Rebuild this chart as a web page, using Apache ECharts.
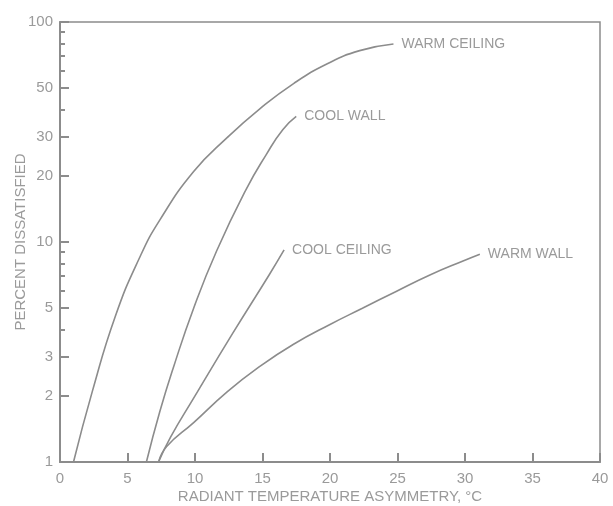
<!DOCTYPE html>
<html>
<head>
<meta charset="utf-8">
<script src="https://cdn.jsdelivr.net/npm/echarts@6/dist/echarts.min.js"></script>
<style>
html,body{margin:0;padding:0;background:#fff;}
#c{width:613px;height:506px;}
</style>
</head>
<body>
<div id="c"></div>
<script>
// ---- data ----
var seriesNames = ['WARM CEILING', 'COOL WALL', 'COOL CEILING', 'WARM WALL'];

var warmCeilingX = [1.0, 2.4, 4.1, 5.9, 7.4, 9.9, 12.4, 14.8, 17.3, 19.8, 22.2, 24.7];
var warmCeilingY = [1.0, 2.1, 4.6, 8.5, 12.6, 20.9, 29.9, 40.3, 52.5, 64.6, 74.1, 79.4];

var coolWallX = [6.4, 7.4, 8.4, 9.9, 11.6, 13.8, 15.3, 16.5, 17.5];
var coolWallY = [1.0, 1.7, 2.69, 5.0, 9.1, 17.4, 25.1, 32.4, 37.2];

var coolCeilingX = [7.3, 8.2, 9.9, 12.8, 15.5, 16.6];
var coolCeilingY = [1.0, 1.3, 1.95, 3.85, 7.1, 9.2];

var warmWallX = [7.3, 7.9, 9.9, 12.4, 14.8, 17.3, 20, 22.4, 24.9, 27.4, 29.9, 31.1];
var warmWallY = [1.0, 1.175, 1.51, 2.09, 2.72, 3.43, 4.22, 5.0, 5.96, 7.08, 8.22, 8.8];

var yMajorTicks = [1, 2, 3, 5, 10, 20, 30, 50, 100];
var yMinorTicks = [4, 6, 7, 8, 9, 40, 60, 70, 80, 90];
var xTitle = 'RADIANT TEMPERATURE ASYMMETRY, °C';
var yTitle = 'PERCENT DISSATISFIED';

// ---- chart ----
function zip(xs, ys) { return xs.map(function (x, i) { return [x, ys[i]]; }); }
var allX = [warmCeilingX, coolWallX, coolCeilingX, warmWallX];
var allY = [warmCeilingY, coolWallY, coolCeilingY, warmWallY];

var gray = '#8c8c8c';
var textGray = '#9a9a9a';
var font = '"Liberation Sans", Arial, sans-serif';

var chart = echarts.init(document.getElementById('c'), null, {renderer: 'canvas'});
chart.setOption({
  animation: false,
  backgroundColor: '#fff',
  grid: {left: 60, top: 22, right: 13, bottom: 44, containLabel: false, outerBoundsMode: 'none',
         show: true, borderColor: gray, borderWidth: 1.5},
  xAxis: {
    type: 'value', min: 0, max: 40, interval: 5,
    name: xTitle, nameLocation: 'middle', nameGap: 27, nameMoveOverlap: false,
    nameTextStyle: {color: textGray, fontSize: 15, fontFamily: font},
    axisLine: {show: true, lineStyle: {color: gray, width: 2}},
    axisTick: {show: true, inside: true, length: 9, lineStyle: {color: gray, width: 2}},
    axisLabel: {color: textGray, fontSize: 15, fontFamily: font, margin: 9},
    splitLine: {show: false}
  },
  yAxis: [{
    type: 'log', logBase: 10, min: 1, max: 100,
    name: yTitle, nameLocation: 'middle', nameGap: 32, nameMoveOverlap: false,
    nameTextStyle: {color: textGray, fontSize: 15, fontFamily: font},
    axisLine: {show: true, lineStyle: {color: gray, width: 2}},
    axisTick: {show: true, inside: true, length: 9, customValues: yMajorTicks, lineStyle: {color: gray, width: 2}},
    axisLabel: {color: textGray, fontSize: 15, fontFamily: font, margin: 7, customValues: yMajorTicks},
    splitLine: {show: false}
  }, {
    type: 'log', logBase: 10, min: 1, max: 100, position: 'left',
    axisLine: {show: false},
    axisTick: {show: true, inside: true, length: 5, customValues: yMinorTicks, lineStyle: {color: gray, width: 2}},
    axisLabel: {show: false},
    splitLine: {show: false}
  }],
  series: seriesNames.map(function (name, i) {
    return {
      name: name, type: 'line', yAxisIndex: 0,
      data: zip(allX[i], allY[i]),
      smooth: 0.5, showSymbol: false, symbol: 'none',
      lineStyle: {color: gray, width: 1.6},
      endLabel: {show: true, formatter: '{a}', color: textGray, fontSize: 14, fontFamily: font, distance: 8}
    };
  })
});
</script>
</body>
</html>
